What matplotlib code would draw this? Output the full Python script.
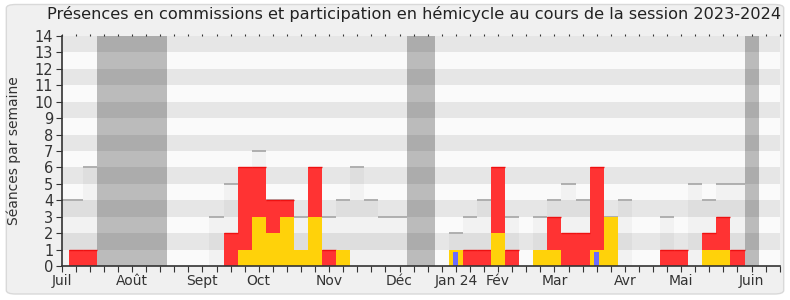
import matplotlib.pyplot as plt
from matplotlib.patches import FancyBboxPatch

# one entry per week, week 0 = first week of July 2023
weeks = list(range(52))

# hemicycle presence (yellow)
hemicycle = [0, 0, 0, 0, 0, 0, 0, 0, 0, 0, 0, 0, 0, 1, 3, 2, 3, 1, 3, 0,
             1, 0, 0, 0, 0, 0, 0, 0, 1, 0, 0, 2, 0, 0, 1, 1, 0, 0, 1, 3,
             0, 0, 0, 0, 0, 0, 1, 1, 0, 0, 0, 0]

# commission presence (red, stacked on top of hemicycle)
commission = [0, 1, 1, 0, 0, 0, 0, 0, 0, 0, 0, 0, 2, 5, 3, 2, 1, 0, 3, 1,
              0, 0, 0, 0, 0, 0, 0, 0, 0, 1, 1, 4, 1, 0, 0, 2, 2, 2, 5, 0,
              0, 0, 0, 1, 1, 0, 1, 2, 1, 0, 0, 0]

# interventions (blue thin bars)
interventions = [0] * 52
interventions[28] = 0.85
interventions[38] = 0.85

# median of all deputies (light bars with grey top)
median = [4, 4, 6, 0, 0, 0, 0, 0, 0, 0, 0, 3, 5, 5, 7, 4, 4, 3, 5, 3,
          4, 6, 4, 3, 3, 0, 0, 0, 2, 3, 4, 4, 3, 0, 3, 4, 5, 4, 4, 3,
          4, 0, 0, 3, 0, 5, 4, 5, 5, 0, 0, 0]

# parliamentary holidays
vacances = [3, 4, 5, 6, 7, 25, 26, 49]

month_pos = [0, 5, 10, 14, 19, 24, 28, 31, 35, 40, 44, 49]
month_labels = ['Juil', 'Août', 'Sept', 'Oct', 'Nov', 'Déc', 'Jan 24', 'Fév',
                'Mar', 'Avr', 'Mai', 'Juin']

title = "Présences en commissions et participation en hémicycle au cours de la session 2023-2024"

fig = plt.figure(figsize=(7.9, 3.0), dpi=100, facecolor='white')
fig.patches.append(FancyBboxPatch((0.008, 0.02), 0.984, 0.965,
                                  boxstyle='round,pad=0,rounding_size=0.012',
                                  transform=fig.transFigure, fc='#f0f0f0',
                                  ec='#d9d9d9', lw=1, zorder=-10))

ax = fig.add_axes([0.078, 0.113, 0.909, 0.767])
ax.set_xlim(0, 51)
ax.set_ylim(0, 14)

# striped background
for k in range(14):
    ax.axhspan(k, k + 1, color='#e6e6e6' if k % 2 else '#fafafa', lw=0, zorder=0)

# median bars
ax.bar(weeks, median, width=1, color='black', alpha=0.03, lw=0, zorder=1)
med_w = [w for w in weeks if median[w] > 0]
ax.hlines([median[w] for w in med_w], [w - 0.5 for w in med_w],
          [w + 0.5 for w in med_w], color='#aaaaaa', lw=1.3, zorder=1.5)

# holidays
ax.bar(vacances, [14] * len(vacances), width=1, color='black', alpha=0.25,
       lw=0, zorder=2)

# presences
ax.bar(weeks, commission, bottom=hemicycle, width=1, color='#ff3333', lw=0,
       zorder=3)
com_w = [w for w in weeks if commission[w] > 0]
ax.hlines([hemicycle[w] + commission[w] for w in com_w],
          [w - 0.5 for w in com_w], [w + 0.5 for w in com_w],
          color='#ee1111', lw=1, zorder=3.5)
ax.bar(weeks, hemicycle, width=1, color='#ffd20a', lw=0, zorder=4)
ax.bar(weeks, interventions, width=0.35, color='#6b6bff', lw=0, zorder=5)

# axes styling
for s in ['top', 'right']:
    ax.spines[s].set_visible(False)
for s in ['left', 'bottom']:
    ax.spines[s].set_color('#333333')
    ax.spines[s].set_linewidth(1.2)
    ax.spines[s].set_zorder(6)

labels = [''] * 52
for p, l in zip(month_pos, month_labels):
    labels[p] = l
ax.set_xticks(weeks)
ax.set_xticklabels(labels, fontsize=10, color='#333333')
ax.set_yticks(range(15))
ax.tick_params(axis='y', labelsize=10.5, length=4, color='#333333',
               labelcolor='#333333', pad=2)
ax.tick_params(axis='x', length=4, color='#333333', pad=2)

top = ax.secondary_xaxis('top')
top.set_xticks(weeks)
top.set_xticklabels([])
top.tick_params(length=1.5, color='#333333')
top.spines['top'].set_visible(False)

fig.text(0.524, 0.955, title, ha='center', va='center', fontsize=11.6,
         color='#222222')
fig.text(0.018, 0.497, 'Séances par semaine', rotation=90, ha='center',
         va='center', fontsize=10, color='#333333')

fig.savefig('out.png', dpi=100, facecolor='white')
